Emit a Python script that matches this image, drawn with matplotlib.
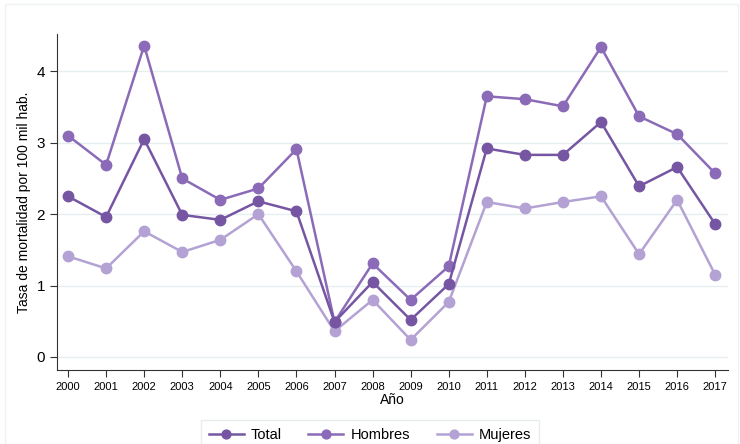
import numpy as np
import matplotlib
matplotlib.use("Agg")
from matplotlib import pyplot as plt
from matplotlib.patches import Rectangle

years = list(range(2000, 2018))
total = [2.25, 1.96, 3.05, 1.99, 1.92, 2.18, 2.04, 0.49, 1.05, 0.52, 1.02,
         2.92, 2.83, 2.83, 3.29, 2.39, 2.66, 1.86]
hombres = [3.10, 2.69, 4.36, 2.50, 2.20, 2.36, 2.91, 0.49, 1.31, 0.80, 1.27,
           3.65, 3.61, 3.51, 4.34, 3.37, 3.12, 2.57]
mujeres = [1.41, 1.24, 1.76, 1.47, 1.64, 2.00, 1.20, 0.36, 0.80, 0.24, 0.77,
           2.17, 2.08, 2.17, 2.25, 1.44, 2.20, 1.15]

plt.rcParams['font.family'] = ['Liberation Sans', 'DejaVu Sans']

fig = plt.figure(figsize=(7.4, 4.44), dpi=100)
ax = fig.add_axes([0.077, 0.167, 0.907, 0.756])

# faint outer frame like the graph region
fig.patches.append(Rectangle((0.007, -0.05), 0.99, 1.04, transform=fig.transFigure,
                             fill=False, edgecolor='#eef2f4', linewidth=1))

series = [("Total", total, '#7656a3'),
          ("Hombres", hombres, '#8b6bb8'),
          ("Mujeres", mujeres, '#b3a2d3')]
for name, vals, col in series[::-1]:
    ax.plot(years, vals, '-o', color=col, lw=1.8, ms=7.5, label=name)

ax.set_xlim(1999.71, 2017.34)
ax.set_ylim(-0.18, 4.52)
ax.set_xticks(years)
ax.set_xticklabels([str(y) for y in years], fontsize=8)
ax.set_yticks([0, 1, 2, 3, 4])
ax.tick_params(axis='y', labelsize=11, length=5, color='#333333')
ax.tick_params(axis='x', length=5, color='#333333')
ax.grid(axis='y', color='#e6eef0', lw=1)
ax.set_axisbelow(True)
for s in ['top', 'right']:
    ax.spines[s].set_visible(False)
for s in ['left', 'bottom']:
    ax.spines[s].set_color('#333333')
ax.set_xlabel('Año', fontsize=10, labelpad=1)
ax.set_ylabel('Tasa de mortalidad por 100 mil hab.', fontsize=10)

h, l = ax.get_legend_handles_labels()
leg = fig.legend(h[::-1], l[::-1], loc='upper center', bbox_to_anchor=(0.5, 0.07),
                 ncol=3, frameon=True, fontsize=10.5, fancybox=False,
                 handlelength=2.4, handletextpad=0.5, columnspacing=1.8,
                 borderpad=0.55, markerscale=0.85)
leg.get_frame().set_edgecolor('#e3e8ea')
leg.get_frame().set_linewidth(1)

fig.savefig('out.png', dpi=100)
